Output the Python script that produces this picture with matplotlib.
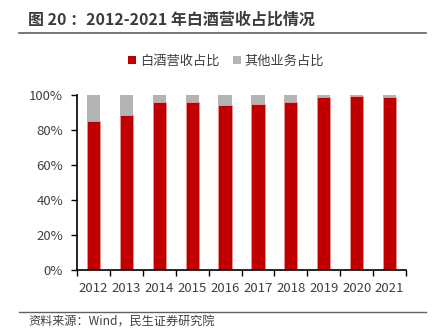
import matplotlib
matplotlib.use("Agg")
import matplotlib.pyplot as plt
from matplotlib.lines import Line2D
from matplotlib.patches import Patch

plt.rcParams['font.family'] = ['Noto Sans CJK SC', 'DejaVu Sans']

years = ['2012', '2013', '2014', '2015', '2016', '2017', '2018', '2019', '2020', '2021']
liquor_share = [0.850, 0.888, 0.962, 0.962, 0.945, 0.947, 0.960, 0.987, 0.993, 0.987]
other_share = [1 - v for v in liquor_share]
series_names = ['白酒营收占比', '其他业务占比']
colors = ['#C00000', '#B4B4B4']
yticks = [0, 0.2, 0.4, 0.6, 0.8, 1.0]
ytick_labels = ['0%', '20%', '40%', '60%', '80%', '100%']

W, H = 435, 330
fig = plt.figure(figsize=(W / 100, H / 100), dpi=100)
ax = fig.add_axes([77 / W, (H - 270) / H, (406 - 77) / W, 175 / H])

x = list(range(len(years)))
ax.bar(x, liquor_share, width=0.4, color=colors[0], edgecolor='#E8A0A0', linewidth=0.4)
ax.bar(x, other_share, width=0.4, bottom=liquor_share, color=colors[1], linewidth=0)

ax.set_xlim(-0.5, len(years) - 0.5)
ax.set_ylim(0, 1.0)
ax.set_yticks(yticks)
ax.set_yticklabels(ytick_labels)
ax.set_xticks([i - 0.5 for i in range(len(years) + 1)], minor=False)
ax.set_xticklabels([])
ax.set_xticks(x, minor=True)
ax.set_xticklabels(years, minor=True)
ax.tick_params(axis='x', which='major', direction='out', length=4, width=1, color='black')
ax.tick_params(axis='x', which='minor', length=0, pad=9, labelsize=9.5, labelcolor='#404040')
ax.tick_params(axis='y', direction='out', length=4, width=1, color='black', labelsize=9.5, labelcolor='#404040', pad=6)
for s in ['top', 'right']:
    ax.spines[s].set_visible(False)
ax.spines['left'].set_linewidth(1.2)
ax.spines['bottom'].set_linewidth(1.2)

handles = [Patch(facecolor=colors[0]), Patch(facecolor=colors[1])]
fig.legend(handles, series_names, loc='center', bbox_to_anchor=(226 / W, (H - 61) / H), ncol=2,
           frameon=False, fontsize=9.5, handlelength=0.6, handleheight=0.6, handletextpad=0.3,
           columnspacing=1.0, labelcolor='#404040')

fig.text(28 / W, (H - 20) / H, '图 20 ：2012-2021 年白酒营收占比情况', fontsize=11.5, fontweight='bold',
         color='#3C3C3C', va='center', ha='left')
fig.add_artist(Line2D([19 / W, 426 / W], [(H - 33) / H] * 2, color='#606060', linewidth=1.2))
fig.add_artist(Line2D([19 / W, 426 / W], [(H - 312) / H] * 2, color='#606060', linewidth=1.0))
fig.text(28 / W, (H - 322) / H, '资料来源：Wind，民生证券研究院', fontsize=8.7, color='#404040', va='center', ha='left')

fig.savefig('out.png', dpi=100)
